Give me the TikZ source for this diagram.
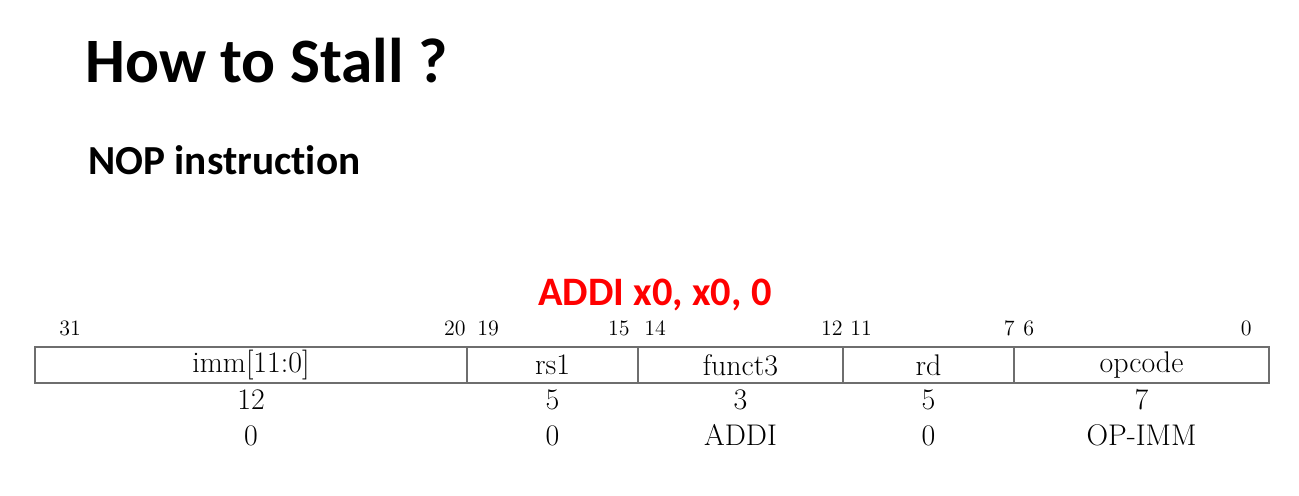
\documentclass[tikz,border=0pt]{standalone}
\usepackage{fontspec}
\newfontfamily\slidefont[Ligatures={NoCommon}]{Carlito}
\definecolor{nopred}{RGB}{255, 0, 0}
\definecolor{fieldgray}{RGB}{110, 110, 110}
\usepackage{tikz}
\usetikzlibrary{positioning}

\begin{document}
\begin{tikzpicture}[x=0.02cm, y=-0.02cm,
  bitnum/.style={font=\fontsize{12.5}{14}\selectfont, inner sep=0pt},
  field/.style={draw=fieldgray, line width=0.8pt, minimum height=0.72cm, inner sep=0pt, font=\fontsize{17}{19}\selectfont},
  tabrow/.style={font=\fontsize{17}{19}\selectfont, inner sep=0pt, anchor=base}]
  \useasboundingbox (0, 0) rectangle (1299, 496);

  % Headings
  \node[font=\slidefont\bfseries\fontsize{36}{40}\selectfont, anchor=base west, inner sep=0pt] (title) at (85, 83) {How to Stall ?};
  \node[font=\slidefont\bfseries\fontsize{23.5}{28}\selectfont, anchor=base west, inner sep=0pt] (subtitle) at (88, 175) {NOP instruction};
  \node[font=\slidefont\bfseries\fontsize{23}{28}\selectfont, text=nopred, anchor=base, inner sep=0pt] (instr) at (655, 306) {ADDI x0, x0, 0};

  % === Bit positions ===
  \node[bitnum, anchor=base west] (b31) at (59, 336) {31};
  \node[bitnum, anchor=base east] (b20) at (466, 336) {20};
  \node[bitnum, anchor=base west] (b19) at (477, 336) {19};
  \node[bitnum, anchor=base east] (b15) at (630, 336) {15};
  \node[bitnum, anchor=base west] (b14) at (644, 336) {14};
  \node[bitnum, anchor=base east] (b12) at (843, 336) {12};
  \node[bitnum, anchor=base west] (b11) at (850, 336) {11};
  \node[bitnum, anchor=base east] (b7) at (1015, 336) {7};
  \node[bitnum, anchor=base west] (b6) at (1023, 336) {6};
  \node[bitnum, anchor=base east] (b0) at (1252, 336) {0};

  % === Instruction fields ===
  \node[field, minimum width=8.64cm] (imm) at (251, 365) {imm[11:0]};
  \node[field, minimum width=3.42cm] (rsone) at (552.5, 365) {rs1};
  \node[field, minimum width=4.10cm] (funct) at (740.5, 365) {funct3};
  \node[field, minimum width=3.42cm] (rd) at (928.5, 365) {rd};
  \node[field, minimum width=5.10cm] (opcode) at (1141.5, 365) {opcode};

  % Field widths
  \node[tabrow] (wimm) at (251, 410) {12};
  \node[tabrow] (wrsone) at (552.5, 410) {5};
  \node[tabrow] (wfunct) at (740.5, 410) {3};
  \node[tabrow] (wrd) at (928.5, 410) {5};
  \node[tabrow] (wopcode) at (1141.5, 410) {7};

  % Field values
  \node[tabrow] (vimm) at (251, 446) {0};
  \node[tabrow] (vrsone) at (552.5, 446) {0};
  \node[tabrow] (vfunct) at (740.5, 446) {ADDI};
  \node[tabrow] (vrd) at (928.5, 446) {0};
  \node[tabrow] (vopcode) at (1141.5, 446) {OP-IMM};
\end{tikzpicture}
\end{document}
